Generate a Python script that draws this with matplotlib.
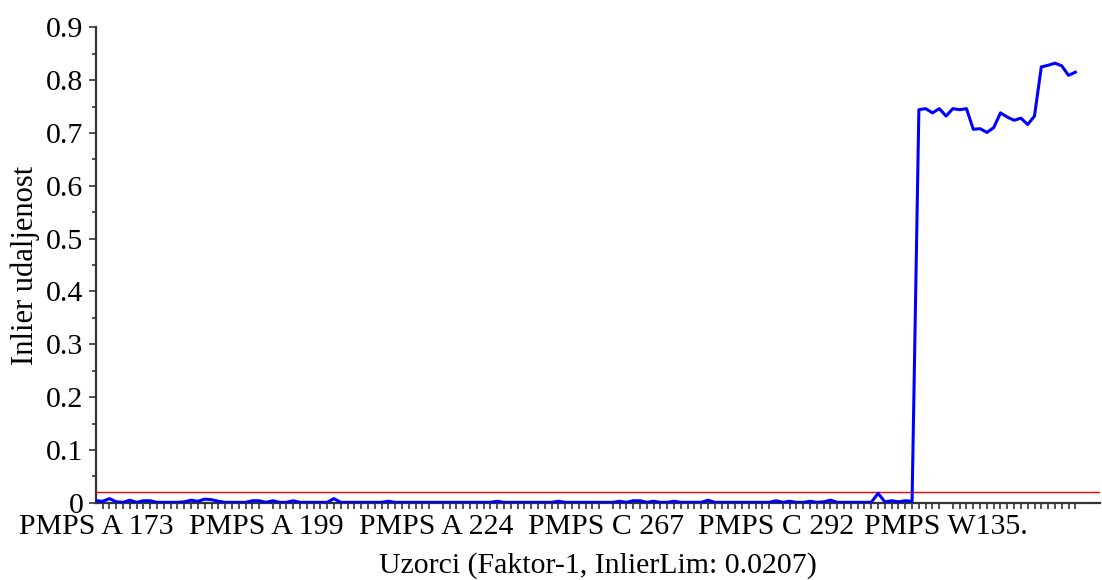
import matplotlib
matplotlib.use("Agg")
import matplotlib.pyplot as plt
import numpy as np

# Inlier distance per sample (Faktor-1)
inlier_dist = [
    0.004, 0.003, 0.008, 0.002, 0.001, 0.005, 0.001, 0.004, 0.004, 0.001,
    0.001, 0.001, 0.001, 0.002, 0.005, 0.003, 0.007, 0.006, 0.003, 0.001,
    0.001, 0.001, 0.001, 0.004, 0.004, 0.001, 0.004, 0.001, 0.001, 0.004,
    0.001, 0.001, 0.001, 0.001, 0.001, 0.008, 0.001, 0.001, 0.001, 0.001,
    0.001, 0.001, 0.001, 0.003, 0.001, 0.001, 0.001, 0.001, 0.001, 0.001,
    0.001, 0.001, 0.001, 0.001, 0.001, 0.001, 0.001, 0.001, 0.001, 0.003,
    0.001, 0.001, 0.001, 0.001, 0.001, 0.001, 0.001, 0.001, 0.003, 0.001,
    0.001, 0.001, 0.001, 0.001, 0.001, 0.001, 0.001, 0.003, 0.001, 0.004,
    0.004, 0.001, 0.003, 0.001, 0.001, 0.003, 0.001, 0.001, 0.001, 0.001,
    0.005, 0.001, 0.001, 0.001, 0.001, 0.001, 0.001, 0.001, 0.001, 0.001,
    0.004, 0.001, 0.003, 0.001, 0.001, 0.003, 0.001, 0.002, 0.005, 0.001,
    0.001, 0.001, 0.001, 0.001, 0.001, 0.018, 0.002, 0.004, 0.002, 0.004,
    0.003,
    0.744, 0.746, 0.738, 0.746, 0.732, 0.746, 0.744, 0.746, 0.707, 0.708,
    0.701, 0.710, 0.738, 0.730, 0.724, 0.728, 0.716, 0.732, 0.825, 0.828,
    0.832, 0.827, 0.809, 0.815,
]
inlier_lim = 0.0207

# sample labels shown on the x axis (every 25th sample)
label_idx = [0, 25, 50, 75, 100, 125]
label_txt = ["PMPS A 173", "PMPS A 199", "PMPS A 224",
             "PMPS C 267", "PMPS C 292", "PMPS W135."]

plt.rcParams["font.family"] = "Liberation Serif"

fig = plt.figure(figsize=(11.02, 5.8), dpi=100)
ax = fig.add_axes([0.087, 0.133, 0.911, 0.82])

x = np.arange(len(inlier_dist))
ax.plot(x, inlier_dist, color="#0000ff", lw=2.2, zorder=3)
ax.axhline(inlier_lim, color="#ff0000", lw=1.0, zorder=2)

ax.set_xlim(0, 147.6)
ax.set_ylim(0, 0.9)

ax.set_xticks(label_idx)
ax.set_xticklabels(label_txt, fontsize=21.5)
ax.set_xticks(x, minor=True)
ax.tick_params(axis="x", which="major", length=0, pad=8)
ax.tick_params(axis="x", which="minor", length=4, width=1.3, color="#444444")

ax.set_yticks(np.arange(0, 0.91, 0.1))
ax.set_yticklabels(["0", "0.1", "0.2", "0.3", "0.4", "0.5", "0.6", "0.7", "0.8", "0.9"],
                   fontsize=21.5)
ax.set_yticks(np.arange(0.05, 0.9, 0.1), minor=True)
ax.tick_params(axis="y", which="major", length=5, width=1.3, color="#444444", pad=4)
ax.tick_params(axis="y", which="minor", length=3, width=1.3, color="#444444")

for s in ["top", "right"]:
    ax.spines[s].set_visible(False)
for s in ["left", "bottom"]:
    ax.spines[s].set_linewidth(1.6)
    ax.spines[s].set_color("#333333")

ax.set_xlabel("Uzorci (Faktor-1, InlierLim: 0.0207)", fontsize=21.5, labelpad=9)
ax.set_ylabel("Inlier udaljenost", fontsize=22, labelpad=4)

fig.savefig("out.png", dpi=100)
